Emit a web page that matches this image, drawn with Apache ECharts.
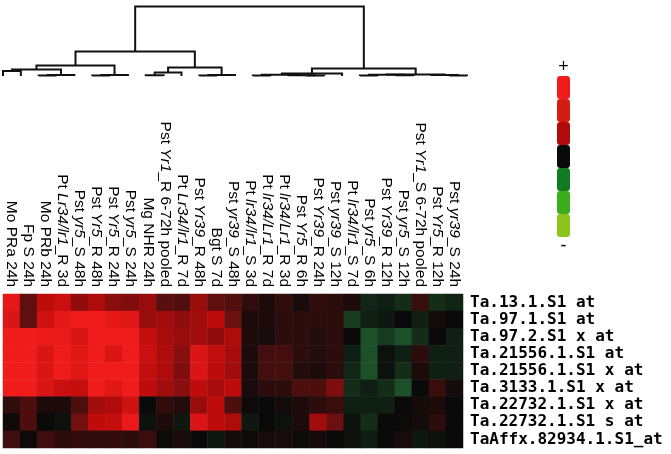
<!DOCTYPE html>
<html>
<head>
<meta charset="utf-8">
<script src="https://cdn.jsdelivr.net/npm/echarts@6/dist/echarts.min.js"></script>
<style>
  html, body { margin: 0; padding: 0; background: #fff; }
  #chart { width: 671px; height: 454px; }
</style>
</head>
<body>
<div id="chart"></div>
<script>
  // columns (samples), left to right
  const samples = [
    'Mo PRa 24h', 'Fp S 24h', 'Mo PRb 24h', 'Pt Lr34/lr1_R 3d', 'Pst yr5_S 48h',
    'Pst Yr5_R 48h', 'Pst Yr5_R 24h', 'Pst yr5_S 24h', 'Mg NHR 24h',
    'Pst Yr1_R 6-72h pooled', 'Pt Lr34/lr1_R 7d', 'Pst Yr39_R 48h', 'Bgt S 7d',
    'Pst yr39_S 48h', 'Pt lr34/lr1_S 3d', 'Pt lr34/Lr1_R 7d', 'Pt lr34/Lr1_R 3d',
    'Pst Yr5_R 6h', 'Pst Yr39_R 24h', 'Pst yr39_S 12h', 'Pt lr34/lr1_S 7d',
    'Pst yr5_S 6h', 'Pst Yr39_R 12h', 'Pst yr5_S 12h', 'Pst Yr1_S 6-72h pooled',
    'Pst Yr5_R 12h', 'Pst yr39_S 24h'
  ];

  // rows (probe sets), top to bottom
  const probes = [
    'Ta.13.1.S1 at', 'Ta.97.1.S1 at', 'Ta.97.2.S1 x at', 'Ta.21556.1.S1 at',
    'Ta.21556.1.S1 x at', 'Ta.3133.1.S1 x at', 'Ta.22732.1.S1 x at',
    'Ta.22732.1.S1 s at', 'TaAffx.82934.1.S1_at'
  ];

  // expression (- green / + red), one list per probe
  const values = [
    [2.8, 0.9, 2.1, 2.3, 1.5, 1.9, 1.4, 1.3, 1.6, 0.8, 0.75, 1.6, 0.9, 0.75, 0.4, 0.2, 0.4, 0.15, 0.4, 0.35, 0.2, -0.4, -0.3, -0.5, 0.5, -0.5, -0.35],
    [2.6, 0.9, 2.4, 2.8, 3, 3, 2.8, 2.7, 1.6, 1.7, 1.5, 1.7, 2.1, 1.0, 0.2, 0.2, 0.35, 0.35, 0.35, 0.35, -0.7, -0.3, -0.2, 0, -0.3, 0.1, 0],
    [3, 3, 2.9, 2.9, 2.6, 3, 3, 3, 2.2, 1.8, 1.6, 1.7, 1.5, 1.9, 0.2, 0.15, 0.35, 0.35, 0.25, 0.35, 0, -1.0, -0.7, -1.0, -0.5, 0, -0.3],
    [3, 3, 2.6, 3, 2.7, 3, 2.6, 3, 2.3, 1.9, 1.4, 2.6, 2.2, 1.8, 0.2, 0.6, 0.6, 0.35, 0.25, 0.35, -0.3, -1.0, -0.1, -0.3, 0.35, -0.3, -0.3],
    [3, 3, 2.6, 3, 2.7, 3, 3, 3, 2.2, 1.9, 1.3, 2.6, 2.1, 1.7, 0.2, 0.6, 0.6, 0.25, 0.2, 0.35, -0.4, -1.0, -0.1, -0.5, 0.2, -0.3, -0.3],
    [3, 3, 2.6, 2.3, 2.2, 3, 2.7, 3, 2.1, 1.7, 1.4, 2.1, 1.8, 2.1, 0.15, 0.35, 0.35, 0.7, 0.7, 1.3, -0.5, -0.3, -0.5, -1.0, 0, 0.5, 0.1],
    [0.4, 0.7, 0.2, 0.2, 0.7, 1.7, 1.9, 2.4, 0, 0.4, 0.25, 1.6, 2.1, 0.7, 0.05, 0, 0.1, 0.2, 0.35, 0.5, -0.3, -0.3, -0.3, 0, 0.1, 0.2, 0],
    [0.05, 0.7, 0, -0.1, 1.1, 2.1, 2.2, 2.9, -0.1, 0.2, -0.2, 2.6, 2.1, 1.9, -0.2, 0, -0.1, 0.2, 1.7, 1.0, -0.1, -0.5, 0, 0.05, 0.1, 0.35, 0],
    [0.55, 0.05, 0.55, 0.35, 0.4, 0.4, 0.4, 0.35, 0.5, 0.05, 0.15, 0, -0.2, 0.1, 0.05, 0.15, 0.15, 0.05, 0.1, 0, -0.1, -0.25, 0, 0.15, -0.2, -0.1, 0]
  ];

  // column dendrogram: [left node, right node, height]; leaves are 0..26, merges 27..
  const links = [
    [0, 1, 5], [2, 3, 0.5], [28, 4, 1], [27, 29, 6.5], [5, 6, 0.5], [31, 7, 1],
    [30, 32, 10.5], [8, 9, 0.8], [34, 10, 3.5], [11, 12, 0.5], [36, 13, 1],
    [35, 37, 8.5], [33, 38, 24.5], [14, 15, 0.4], [17, 18, 0.5], [16, 41, 0.8],
    [40, 42, 1.2], [43, 19, 2.5], [20, 21, 0.4], [22, 23, 0.8], [45, 46, 1.2],
    [25, 26, 0.5], [24, 48, 1], [47, 49, 1.5], [44, 50, 7.5], [39, 51, 69.5]
  ];

  const heatColors = ['#8cc21a', '#2a8030', '#1c5028', '#0a0a0a', '#6a1010', '#b80a0a', '#f01c1c'];
  const scaleColors = ['#8cc41c', '#3cae1e', '#127a22', '#0a0a0a', '#b00a0a', '#d41c12', '#f01c1c'];

  let heatData = [];
  values.forEach((row, r) => row.forEach((v, c) => heatData.push([c, r, v])));

  // node position = middle of its two children
  let nodeX = samples.map((s, i) => i);
  let nodeH = samples.map(() => 0);
  let linkData = links.map(([a, b, h]) => {
    let item = [nodeX[a], nodeH[a], nodeX[b], nodeH[b], h];
    nodeX.push((nodeX[a] + nodeX[b]) / 2);
    nodeH.push(h);
    return item;
  });

  const labelFont = 'Liberation Sans, Arial, sans-serif';

  const chart = echarts.init(document.getElementById('chart'));
  const option = {
    backgroundColor: '#fff',
    animation: false,
    grid: [
      { left: 3, top: 294, width: 460, height: 154 },
      { left: 3, top: 6, width: 464, height: 70 }
    ],
    xAxis: [
      {
        type: 'category',
        gridIndex: 0,
        position: 'top',
        data: samples,
        axisLine: { show: false },
        axisTick: { show: false },
        axisLabel: {
          rotate: 90,
          interval: 0,
          margin: 7,
          color: '#000',
          fontSize: 15.5,
          fontFamily: labelFont,
          formatter: function (v) {
            let m = v.match(/^(\S+ )(\S+?)(_.*)$/);
            return m ? m[1] + '{i|' + m[2] + '}' + m[3] : v;
          },
          rich: {
            i: { fontStyle: 'italic', fontSize: 15.5, color: '#000', fontFamily: labelFont }
          }
        }
      },
      { type: 'value', gridIndex: 1, min: 0, max: 26, show: false }
    ],
    yAxis: [
      {
        type: 'category',
        gridIndex: 0,
        position: 'right',
        inverse: true,
        data: probes,
        axisLine: { show: false },
        axisTick: { show: false },
        axisLabel: {
          interval: 0,
          margin: 7,
          color: '#000',
          fontSize: 16,
          fontWeight: 'bold',
          fontFamily: 'DejaVu Sans Mono, monospace'
        }
      },
      { type: 'value', gridIndex: 1, min: 0, max: 70, show: false }
    ],
    visualMap: [
      {
        type: 'continuous',
        show: false,
        seriesIndex: 0,
        dimension: 2,
        min: -3,
        max: 3,
        inRange: { color: heatColors }
      },
      {
        type: 'piecewise',
        seriesIndex: 2,
        orient: 'vertical',
        left: 557,
        top: 58,
        padding: 0,
        itemWidth: 13,
        itemHeight: 23,
        itemGap: 0,
        text: ['+', '-'],
        textStyle: { color: '#000', fontSize: 18, fontFamily: labelFont },
        selectedMode: false,
        hoverLink: false,
        pieces: scaleColors.map((c, i) => ({ min: i - 3.5, max: i - 2.5, color: c }))
      }
    ],
    series: [
      {
        type: 'heatmap',
        xAxisIndex: 0,
        yAxisIndex: 0,
        data: heatData,
        silent: true,
        itemStyle: { borderWidth: 0 },
        emphasis: { disabled: true }
      },
      {
        type: 'custom',
        xAxisIndex: 1,
        yAxisIndex: 1,
        data: linkData,
        silent: true,
        renderItem: function (params, api) {
          let a = api.coord([api.value(0), api.value(1)]);
          let b = api.coord([api.value(0), api.value(4)]);
          let c = api.coord([api.value(2), api.value(4)]);
          let d = api.coord([api.value(2), api.value(3)]);
          return {
            type: 'polyline',
            shape: { points: [a, b, c, d] },
            style: { stroke: '#111', lineWidth: 2, fill: null }
          };
        }
      },
      { type: 'scatter', xAxisIndex: 1, yAxisIndex: 1, data: [] }
    ]
  };
  chart.setOption(option);
</script>
</body>
</html>
